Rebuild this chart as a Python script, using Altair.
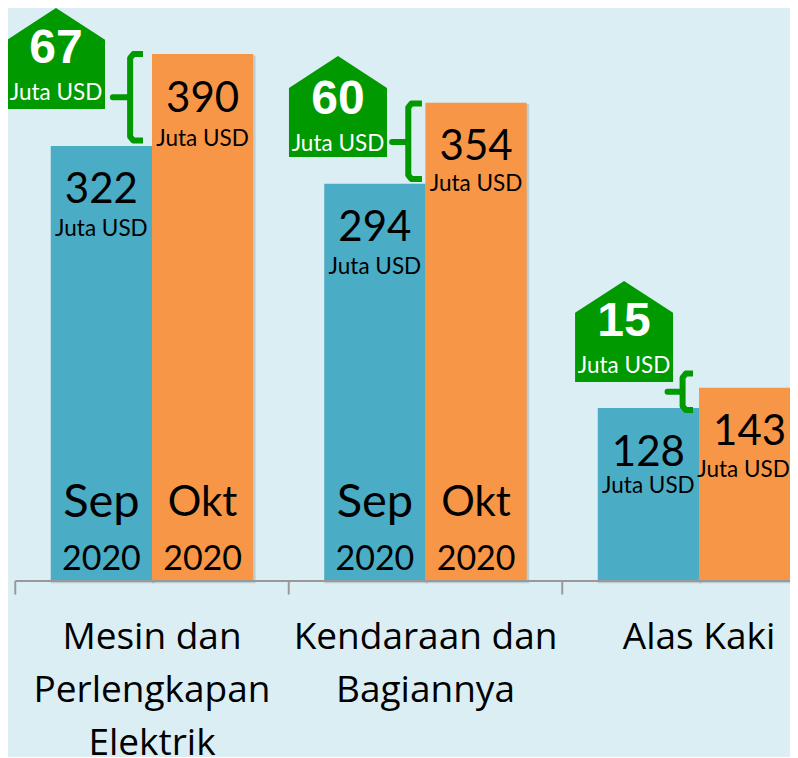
import altair as alt
import pandas as pd

# ---- values
groups = [0, 1, 2]
sep_values = [322, 294, 128]
okt_values = [390, 354, 143]
diff_values = ["67", "60", "15"]
category_lines = [["Mesin dan", "Perlengkapan", "Elektrik"],
                  ["Kendaraan dan", "Bagiannya"],
                  ["Alas Kaki"]]
month_groups = [0, 1]
unit = "Juta USD"
year = "2020"

# label anchors in data units (group units on x, USD millions on y)
sep_unit_y = [260.5, 232.5, 70.5]
okt_unit_y = [327.5, 293.5, 82.5]
okt_unit_x_shift = [0, 0, -0.022]
house_x = [-0.351, 0.68, 1.726]
house_y = [386.8, 351.2, 184.7]
house_text_shift = [0, -2, 0]
brace_top = [390, 353.5, 153.5]
brace_mid = [358, 325, 140]
brace_bot = [326, 297.5, 126.5]
brace_tip = [-0.033, 0.987, 1.978]
brace_spine = [-0.08, 0.937, 1.94]
brace_nub = [-0.143, 0.878, 1.885]
tick_pos = [-0.5, 0.5, 1.5]
bar_width = 0.37
month_sizes = {"Sep": 47, "Okt": 42}

BG = "#DBEEF4"
BLUE = "#4BACC6"
ORANGE = "#F79646"
GREEN = "#009900"
GREY = "#999999"
NARROW = "Lato"
BODY = "Open Sans"

W, H = 782, 749
PX_PER_UNIT = 1.351
BASE_Y = 573
PX_PER_GROUP = 273.5
X0 = 144
x_max = (W - X0) / PX_PER_GROUP
xs = alt.Scale(domain=[-X0 / PX_PER_GROUP, x_max], nice=False, zero=False, clamp=True)
ys = alt.Scale(domain=[-(H - BASE_Y) / PX_PER_UNIT, BASE_Y / PX_PER_UNIT], nice=False, zero=False)
X = lambda f: alt.X(f, type="quantitative", scale=xs, axis=None)
Y = lambda f: alt.Y(f, type="quantitative", scale=ys, axis=None)

rows = []
for g, s, o, su, ou, sh in zip(groups, sep_values, okt_values, sep_unit_y, okt_unit_y, okt_unit_x_shift):
    rows.append(dict(g=g, left=g - bar_width, right=g, mid=g - bar_width / 2, ux=g - bar_width / 2,
                     top=s, uy=su, series="Sep", zero=0, fs=month_sizes["Sep"]))
    rows.append(dict(g=g, left=g, right=g + bar_width, mid=g + bar_width / 2, ux=g + bar_width / 2 + sh,
                     top=o, uy=ou, series="Okt", zero=0, fs=month_sizes["Okt"]))
bars_df = pd.DataFrame(rows)

bars = alt.Chart(bars_df).mark_bar().encode(
    x=X("left"), x2="right", y=Y("zero"), y2="top",
    color=alt.Color("series:N", scale=alt.Scale(domain=["Sep", "Okt"], range=[BLUE, ORANGE]), legend=None),
)
# soft shadow just right of and below each bar
shadow_df = bars_df.assign(sr=bars_df.right + 0.009, sb=-1.6, st=bars_df.top - 1)
shadow = alt.Chart(shadow_df).mark_bar(color="#000000", opacity=0.13).encode(
    x=X("left"), x2="sr", y=Y("sb"), y2="st")
value_txt = alt.Chart(bars_df).mark_text(font="Lato", fontSize=42, color="black", dy=44.5, baseline="middle").encode(
    x=X("mid"), y=Y("top"), text="top:Q")
unit_txt = alt.Chart(bars_df.assign(u=unit)).mark_text(font=NARROW, fontSize=22.5, color="black", baseline="middle").encode(
    x=X("ux"), y=Y("uy"), text="u:N")

month_df = bars_df[bars_df.g.isin(month_groups)].assign(yr=year)
month_txt = alt.Chart(month_df).mark_text(font=NARROW, color="black", baseline="middle", dy=-78).encode(
    x=X("mid"), y=Y("zero"), text="series:N", size=alt.Size("fs:Q", scale=None, legend=None))
year_txt = alt.Chart(month_df).mark_text(font=NARROW, fontSize=34, color="black", baseline="middle", dy=-21).encode(
    x=X("mid"), y=Y("zero"), text="yr:N")

# axis line and ticks
axis_df = pd.DataFrame({"a": [tick_pos[0]], "b": [x_max], "z": [0]})
axis_line = alt.Chart(axis_df).mark_rule(color=GREY, strokeWidth=2).encode(x=X("a"), x2="b", y=Y("z"))
tick_df = pd.DataFrame({"a": tick_pos, "z": [0] * 3, "z2": [-10] * 3})
ticks = alt.Chart(tick_df).mark_rule(color=GREY, strokeWidth=2).encode(x=X("a"), y=Y("z"), y2="z2")

# category labels
cat_rows = []
for g, lines in zip(groups, category_lines):
    for i, line in enumerate(lines):
        cat_rows.append(dict(x=g, y=-42.5 - 39 * i, t=line))
cats = alt.Chart(pd.DataFrame(cat_rows)).mark_text(font=BODY, fontSize=37, color="black", baseline="middle").encode(
    x=X("x"), y=Y("y"), text="t:N")

# callouts
house_df = pd.DataFrame({"x": house_x, "y": house_y, "d": diff_values, "u": [unit] * 3})
house_df["ty"] = house_df.y + pd.Series(house_text_shift)
house = alt.Chart(house_df).mark_point(
    shape="M-1,1.03L-1,-0.38L0,-1.03L1,-0.38L1,1.03Z", filled=True, opacity=1, color=GREEN, size=9604
).encode(x=X("x"), y=Y("y"))
house_num = alt.Chart(house_df).mark_text(font="Liberation Sans", fontWeight="bold", fontSize=48, color="white",
                                          baseline="middle", dy=-9.5).encode(x=X("x"), y=Y("ty"), text="d:N")
house_unit = alt.Chart(house_df).mark_text(font=NARROW, fontSize=22.5, color="white",
                                           baseline="middle", dy=35).encode(x=X("x"), y=Y("ty"), text="u:N")

DX, DY = 0.012, 3
brace_rows = []
for b, (tip, sp, nub, top, mid, bot) in enumerate(zip(brace_tip, brace_spine, brace_nub, brace_top, brace_mid, brace_bot)):
    path = [(tip, top), (sp + DX, top), (sp, top - DY), (sp, mid), (nub, mid), (sp, mid), (sp, bot + DY), (sp + DX, bot), (tip, bot)]
    for k, (px, py) in enumerate(path):
        brace_rows.append(dict(b=b, k=k, x=px, y=py))
braces = alt.Chart(pd.DataFrame(brace_rows)).mark_line(
    color=GREEN, strokeWidth=6, strokeCap="butt", strokeJoin="round"
).encode(x=X("x"), y=Y("y"), detail="b:N", order="k:Q")

chart = alt.layer(
    shadow, bars, axis_line, ticks, value_txt, unit_txt, month_txt, year_txt, cats, house, house_num, house_unit, braces
).properties(
    width=W, height=H, padding=0, background=BG,
    autosize=alt.AutoSizeParams(type="none"),
).configure_view(stroke=None)

chart.save("out.html", embed_options={"renderer": "svg", "actions": False})
